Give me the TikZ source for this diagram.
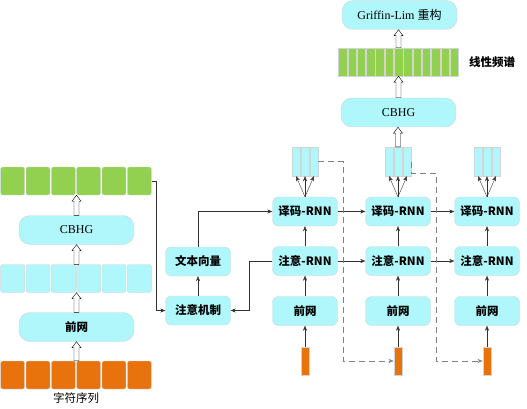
\documentclass[tikz,border=0pt]{standalone}
\usepackage{fontspec}
\setmainfont{Liberation Serif}
\newfontfamily\cjk{Noto Sans CJK SC}
\usetikzlibrary{arrows.meta,calc}
\definecolor{boxcyan}{RGB}{175,247,250}
\definecolor{cellgreen}{RGB}{146,208,80}
\definecolor{cellorange}{RGB}{232,114,12}
\definecolor{edgegray}{RGB}{212,212,212}
\definecolor{linegray}{RGB}{50,50,50}
\tikzset{
  box/.style={draw=edgegray, fill=boxcyan, rounded corners=6pt, minimum width=65pt, minimum height=29pt, inner sep=0pt, font=\cjk\bfseries\fontsize{11.5}{12}\selectfont},
  bigbox/.style={box, rounded corners=11pt, minimum width=115pt, font=\fontsize{12}{13}\selectfont},
  cell/.style={draw=edgegray, rounded corners=2pt, inner sep=0pt, minimum width=24pt, minimum height=28pt},
  bar/.style={draw=edgegray, inner sep=0pt, minimum width=8.5pt, minimum height=28pt},
  conn/.style={draw=linegray, -{Stealth[length=5pt,width=4pt]}},
  loopback/.style={conn, draw=gray, dash pattern=on 6pt off 4pt},
  lbl/.style={font=\cjk\bfseries\fontsize{11.5}{12}\selectfont, inner sep=0pt}
}
% hollow arrow from #1 (bottom) up to #2 (tip)
\newcommand\fatarrow[2]{%
  \draw[black, fill=white] let \p1=(#1), \p2=(#2) in
    (\x1-2.5pt,\y1) -- (\x1-2.5pt,\y2-6pt) -- (\x1-4.5pt,\y2-6pt) -- (\x1,\y2)
    -- (\x1+4.5pt,\y2-6pt) -- (\x1+2.5pt,\y2-6pt) -- (\x1+2.5pt,\y1) -- cycle;}
\begin{document}
\begin{tikzpicture}[x=1pt,y=-1pt]
  \useasboundingbox (0,0) rectangle (527,409);

  % encoder
  \foreach \i in {1,...,6}{
    \node[cell, fill=cellgreen] (g\i) at ({12.67+25.33*(\i-1)},181) {};
    \node[cell, fill=boxcyan] (m\i) at ({12.67+25.33*(\i-1)},278.5) {};
    \node[cell, fill=cellorange] (s\i) at ({12.67+25.33*(\i-1)},375) {};
  }
  \node[bigbox] (cbhgA) at (76.5,230) {CBHG};
  \node[bigbox, font=\cjk\bfseries\fontsize{11.5}{12}\selectfont] (preA) at (76.5,327) {前网};
  \node[font=\cjk\fontsize{11.5}{12}\selectfont, inner sep=0pt] (chars) at (76,398) {字符序列};
  \fatarrow{preA.south |- s3.north}{preA.south}
  \fatarrow{preA.north}{preA.north |- m3.south}
  \fatarrow{cbhgA.south |- m3.north}{cbhgA.south}
  \fatarrow{cbhgA.north}{cbhgA.north |- g3.south}

  % attention
  \node[box] (vec) at (198,261.5) {文本向量};
  \node[box] (att) at (198,310.5) {注意机制};
  \draw[conn] (g6.east) -- ++(5,0) |- (att.west);
  \draw[conn] (att) -- (vec);

  % decoder steps
  \foreach \cx [count=\k] in {305,398,487}{
    \node[box] (dec\k) at (\cx,211.5) {译码-RNN};
    \node[box] (arn\k) at (\cx,261) {注意-RNN};
    \node[box] (pre\k) at (\cx,311) {前网};
    \node[bar, fill=cellorange] (in\k) at (\cx,361) {};
    \foreach \j in {1,2,3}
      \node[bar, fill=boxcyan, minimum height=29pt] (out\k\j) at ({\cx+9*(\j-2)},161.5) {};
    \draw[conn] (in\k) -- (pre\k);
    \draw[conn] (pre\k) -- (arn\k);
    \draw[conn] (arn\k) -- (dec\k);
    \foreach \j in {1,2,3}
      \draw[conn] (dec\k.north) -- (out\k\j.south);
  }
  \draw[conn] (vec.north) |- (dec1.west);
  \draw[conn] (arn1.west) -- ++(-23,0) |- (att.east);
  \draw[conn] (dec1.east) -- (dec2.west);
  \draw[conn] (dec2.east) -- (dec3.west);
  \draw[conn] (arn1.east) -- (arn2.west);
  \draw[conn] (arn2.east) -- (arn3.west);
  \draw[loopback] (out13.east) -- ++(25,0) |- (in2.west);
  \draw[loopback] (out23.east) -- ++(0,11.5) -- ++(25,0) |- (in3.west);

  % post-processing
  \node[bigbox] (cbhgB) at (398.5,112.5) {CBHG};
  \foreach \i in {1,...,13}
    \node[bar, fill=cellgreen] (lin\i) at ({398.5+9.3*(\i-7)},62) {};
  \node[bigbox] (gl) at (399.5,15) {Griffin-Lim {\cjk 重构}};
  \node[lbl] (spec) at (492,62) {线性频谱};
  \fatarrow{out22.north}{cbhgB.south}
  \fatarrow{cbhgB.north}{lin7.south}
  \fatarrow{lin7.north}{gl.south}
\end{tikzpicture}
\end{document}
